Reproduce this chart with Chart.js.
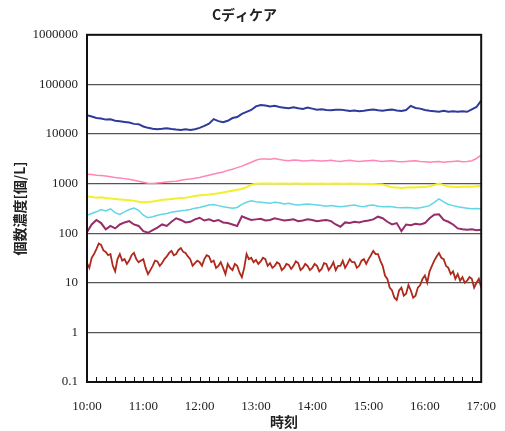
<!DOCTYPE html>
<html>
<head>
<meta charset="utf-8">
<script src="https://cdn.jsdelivr.net/npm/chart.js@4"></script>
<style>
  html, body { margin: 0; background: #fff; }
  #wrap { width: 505px; height: 431px; }
</style>
</head>
<body>
<div id="wrap"><canvas id="chart"></canvas></div>
<script>
// samples: every 5 minutes (red: every 2.5 minutes), 10:00 -> 17:00
const stepMin = 5;
const redStepMin = 2.5;
const hourLabels = ['10:00', '11:00', '12:00', '13:00', '14:00', '15:00', '16:00', '17:00'];
const yTicks = [0.1, 1, 10, 100, 1000, 10000, 100000, 1000000];

const blue = [
  24000,22500,21000,20500,19500,19800,18500,18000,17500,17000,16000,15800,
  14200,13300,12800,12500,12700,13000,12600,12300,12100,12400,12100,12500,
  13300,14600,16200,20000,18200,17200,18500,21000,22000,25500,28000,30500,
  36000,38500,37500,36000,37000,35000,34000,33000,34500,33000,32000,34000,
  32500,31000,31500,30500,30000,30800,31000,30000,29200,29800,28800,29500,
  30500,31200,30000,29500,30500,31000,29800,29000,30500,37000,33500,32500,
  30500,29500,28800,28200,29500,28000,28600,28200,28800,28000,31500,35000,
  47000
];
const pink = [
  1550,1520,1480,1460,1430,1380,1330,1300,1260,1220,1170,1120,
  1060,1020,1010,1030,1050,1080,1100,1120,1170,1210,1240,1280,
  1330,1400,1480,1560,1640,1720,1850,1950,2100,2250,2450,2700,
  2950,3150,3150,3100,3200,3050,2950,2900,3000,2950,2850,2900,
  2950,2900,2850,2900,2950,2850,2800,2900,2950,2850,2800,2850,
  2900,2950,2850,2800,2850,2900,2800,2750,2800,2850,2900,2800,
  2750,2700,2750,2800,2700,2750,2800,2850,2750,2800,2900,3200,
  3800
];
const yellow = [
  550,540,520,530,510,500,490,480,470,460,450,430,
  420,425,435,450,470,480,490,500,510,520,540,560,
  580,590,600,620,640,660,690,720,750,780,850,950,
  990,1000,1000,1000,990,1000,1000,990,1000,1000,990,1000,
  990,990,1000,990,990,1000,990,990,1000,990,990,980,
  990,980,970,960,900,840,830,820,830,840,830,850,
  850,880,940,1000,930,870,860,850,860,870,860,880,
  900
];
const cyan = [
  230,250,270,300,280,310,260,240,270,300,320,290,
  230,205,215,230,240,250,265,275,285,290,300,320,
  330,350,370,380,360,340,330,320,330,380,420,450,
  430,420,410,400,420,410,390,400,380,370,380,390,
  380,370,360,350,360,350,340,350,360,370,350,340,
  360,370,350,340,345,340,330,325,330,325,320,325,
  340,360,420,490,430,380,360,340,330,320,310,315,
  310
];
const purple = [
  105,150,185,160,120,140,125,150,165,175,150,140,
  110,102,115,130,150,140,170,200,185,165,170,190,
  205,180,190,175,185,165,160,150,140,220,200,185,
  190,195,180,185,200,190,180,185,190,175,180,190,
  185,175,180,185,175,150,135,165,160,170,165,175,
  180,190,215,200,170,150,160,110,150,145,155,150,
  160,200,235,240,185,170,150,125,120,118,120,115,
  118
];
const red = [
  25,20,32,38,48,62,58,45,42,36,38,22,17,30,38,28,30,24,28,36,40,30,26,28,
  30,20,15,18,22,28,27,22,25,30,34,40,44,36,38,46,50,42,40,34,30,22,25,28,
  26,22,30,36,34,26,28,20,22,26,20,15,24,20,18,24,22,16,13,20,38,30,32,26,
  29,24,27,32,30,22,25,20,22,26,24,18,20,24,23,19,22,27,25,18,20,24,22,18,
  20,24,22,17,19,25,24,18,21,26,18,22,22,28,20,24,30,26,26,20,22,28,30,24,
  30,36,44,38,38,28,22,14,12,8,7,5,4.5,7,8,5.5,6,9,7,5,5.5,8,9,12,
  14,10,17,22,28,34,40,32,30,22,20,15,17,12,15,11,13,10,11,13,12,8,10,12,
  8
];

function toPoints(values, step) {
  return values.map((v, i) => ({ x: i * step, y: v }));
}

function series(label, values, step, color, width) {
  return {
    label: label,
    data: toPoints(values, step),
    borderColor: color,
    borderWidth: width,
    pointRadius: 0,
    fill: false,
    tension: 0
  };
}

// box around the plot and small inward ticks on the time axis
const frame = {
  id: 'frame',
  afterDatasetsDraw(chart) {
    const { ctx, chartArea: a, scales } = chart;
    ctx.save();
    ctx.strokeStyle = '#111';
    ctx.lineWidth = 1;
    scales.x.ticks.forEach(t => {
      const px = Math.round(scales.x.getPixelForValue(t.value)) + 0.5;
      ctx.beginPath();
      ctx.moveTo(px, a.bottom);
      ctx.lineTo(px, a.bottom - 5);
      ctx.stroke();
    });
    ctx.lineWidth = 2;
    ctx.strokeRect(a.left, a.top, a.right - a.left, a.bottom - a.top);
    ctx.restore();
  }
};

const jpFont = { family: 'Noto Sans CJK JP', size: 14, weight: 'bold' };

const ctx = document.getElementById('chart');
const myChart = new Chart(ctx, {
  type: 'line',
  data: {
    datasets: [
      series('blue', blue, stepMin, '#2e3a9c', 2),
      series('pink', pink, stepMin, '#ff86b8', 1.5),
      series('yellow', yellow, stepMin, '#f4ef2e', 2),
      series('cyan', cyan, stepMin, '#62d6e6', 1.5),
      series('purple', purple, stepMin, '#962c68', 2),
      series('red', red, redStepMin, '#ad2a1c', 1.8)
    ]
  },
  options: {
    responsive: true,
    maintainAspectRatio: false,
    animation: false,
    layout: { padding: { top: 0, right: 16, bottom: 0, left: 0 } },
    plugins: {
      legend: { display: false },
      tooltip: { enabled: false },
      title: {
        display: true,
        text: 'Cディケア',
        color: '#222',
        font: jpFont,
        padding: { top: 6, bottom: 12 }
      }
    },
    scales: {
      x: {
        type: 'linear',
        min: 0,
        max: 420,
        afterBuildTicks: scale => {
          const ticks = [];
          for (let m = 0; m <= 420; m += 10) ticks.push({ value: m });
          scale.ticks = ticks;
        },
        afterFit: scale => { scale.height = 49; },
        grid: { display: false },
        border: { display: false },
        ticks: {
          autoSkip: false,
          maxRotation: 0,
          padding: 9,
          color: '#222',
          font: { family: 'Liberation Serif', size: 13 },
          callback: v => (v % 60 === 0 ? hourLabels[v / 60] : '')
        },
        title: {
          display: true,
          text: '時刻',
          color: '#222',
          font: jpFont,
          padding: { top: 0, bottom: 1 }
        }
      },
      y: {
        type: 'logarithmic',
        min: 0.1,
        max: 1000000,
        afterBuildTicks: scale => {
          scale.ticks = yTicks.map(v => ({ value: v }));
        },
        afterFit: scale => { scale.width = 87; },
        grid: { color: '#555', lineWidth: 1.2, drawTicks: false },
        border: { display: false },
        ticks: {
          padding: 9,
          color: '#222',
          font: { family: 'Liberation Serif', size: 13 },
          callback: v => String(v)
        },
        title: {
          display: true,
          text: '個数濃度[個/L]',
          color: '#222',
          font: jpFont,
          padding: { top: 11, bottom: 0 }
        }
      }
    }
  },
  plugins: [frame]
});
</script>
</body>
</html>
